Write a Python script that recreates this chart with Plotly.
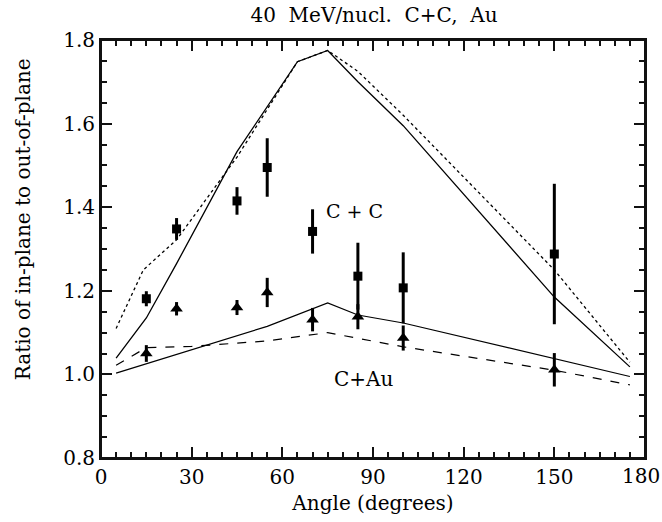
import plotly.graph_objects as go

# Data
angles = [15, 25, 45, 55, 70, 85, 100, 150]
cc_ratio = [1.181, 1.348, 1.415, 1.495, 1.342, 1.235, 1.207, 1.288]
cc_err = [0.018, 0.026, 0.033, 0.070, 0.053, 0.080, 0.085, 0.168]
cau_ratio = [1.050, 1.157, 1.160, 1.196, 1.131, 1.138, 1.087, 1.011]
cau_err = [0.020, 0.016, 0.018, 0.035, 0.028, 0.030, 0.030, 0.040]

cc_solid_x = [5, 15, 25, 45, 65, 75, 85, 100, 150, 175]
cc_solid_y = [1.039, 1.135, 1.265, 1.533, 1.748, 1.775, 1.700, 1.595, 1.185, 1.018]
cc_dot_x = [5, 14, 25, 45, 65, 75, 85, 100, 150, 175]
cc_dot_y = [1.110, 1.250, 1.322, 1.520, 1.748, 1.775, 1.725, 1.620, 1.250, 1.029]
cau_solid_x = [5, 55, 75, 85, 100, 150, 175]
cau_solid_y = [1.003, 1.115, 1.171, 1.142, 1.123, 1.038, 0.995]
cau_dash_x = [5, 15, 30, 55, 75, 100, 150, 175]
cau_dash_y = [1.022, 1.064, 1.067, 1.080, 1.100, 1.066, 1.010, 0.975]

x_ticks = [0, 30, 60, 90, 120, 150, 180]
x_minor = list(range(0, 181, 5))
y_ticks = [0.8, 1.0, 1.2, 1.4, 1.6, 1.8]
y_minor = [round(0.8 + 0.05 * i, 2) for i in range(21)]

FONT = "DejaVu Serif"
INK = "#111111"

fig = go.Figure()
fig.add_trace(go.Scatter(x=cc_solid_x, y=cc_solid_y, mode="lines",
                         line=dict(color="black", width=1.3)))
fig.add_trace(go.Scatter(x=cc_dot_x, y=cc_dot_y, mode="lines",
                         line=dict(color="black", width=1.3, dash="dot")))
fig.add_trace(go.Scatter(x=cau_solid_x, y=cau_solid_y, mode="lines",
                         line=dict(color="black", width=1.2)))
fig.add_trace(go.Scatter(x=cau_dash_x, y=cau_dash_y, mode="lines",
                         line=dict(color="black", width=1.2, dash="dash")))
fig.add_trace(go.Scatter(x=angles, y=cc_ratio, mode="markers",
                         marker=dict(symbol="square", size=9, color="black"),
                         error_y=dict(type="data", array=cc_err, color="black",
                                      thickness=3, width=0)))
fig.add_trace(go.Scatter(x=angles, y=cau_ratio, mode="markers",
                         marker=dict(symbol="triangle-up", size=11, color="black"),
                         error_y=dict(type="data", array=cau_err, color="black",
                                      thickness=3, width=0)))
fig.add_trace(go.Scatter(x=[], y=[], xaxis="x2", yaxis="y2", hoverinfo="skip"))

fig.add_annotation(x=84, y=1.39, text="C + C", showarrow=False,
                   font=dict(family=FONT, size=19, color="black"))
fig.add_annotation(x=87, y=0.99, text="C+Au", showarrow=False,
                   font=dict(family=FONT, size=20, color="black"))
fig.add_annotation(xref="paper", yref="paper", x=-0.17, y=0.57,
                   text="Ratio of in-plane to out-of-plane", textangle=-90,
                   showarrow=False, font=dict(family=FONT, size=20, color="black"))
fig.add_annotation(x=180, y=0.8, yref="y", xref="x", yshift=-18, xshift=-4,
                   text="180", showarrow=False,
                   font=dict(family=FONT, size=20, color="black"))

# plot frame
fig.add_shape(type="rect", xref="paper", yref="paper", x0=0, x1=1, y0=0, y1=1,
              line=dict(color=INK, width=2), layer="above")

fig.update_layout(
    width=662, height=522,
    margin=dict(l=101, r=17, t=40, b=64, autoexpand=False),
    plot_bgcolor="white", paper_bgcolor="white",
    showlegend=False,
    title=dict(text="40  MeV/nucl.  C+C,  Au", x=0.565, xanchor="center", y=0.985, yanchor="top",
               font=dict(family=FONT, size=20, color="black")),
    xaxis=dict(range=[0, 180], tickvals=x_ticks[:-1], ticks="inside", ticklen=11, tickwidth=2,
               tickcolor=INK, mirror="ticks", showline=True, linecolor=INK,
               linewidth=2, showgrid=False, zeroline=False,
               tickfont=dict(family=FONT, size=20, color="black"),
               title=dict(text="Angle (degrees)", standoff=8,
                          font=dict(family=FONT, size=20, color="black"))),
    yaxis=dict(range=[0.8, 1.8], tickvals=y_ticks, ticktext=[f"{v:.1f}" for v in y_ticks],
               ticks="inside", ticklen=11, tickwidth=2, tickcolor=INK, mirror="ticks",
               showline=True, linecolor=INK, linewidth=2, showgrid=False,
               zeroline=False,
               tickfont=dict(family=FONT, size=20, color="black")),
    xaxis2=dict(overlaying="x", matches="x", range=[0, 180], tickvals=x_minor,
                ticks="inside", ticklen=6, tickwidth=1.5, tickcolor=INK,
                mirror="ticks", showline=False, showgrid=False, zeroline=False,
                showticklabels=False),
    yaxis2=dict(overlaying="y", matches="y", range=[0.8, 1.8], tickvals=y_minor,
                ticks="inside", ticklen=6, tickwidth=1.5, tickcolor=INK,
                mirror="ticks", showline=False, showgrid=False, zeroline=False,
                showticklabels=False),
)

fig.write_html("out.html")
